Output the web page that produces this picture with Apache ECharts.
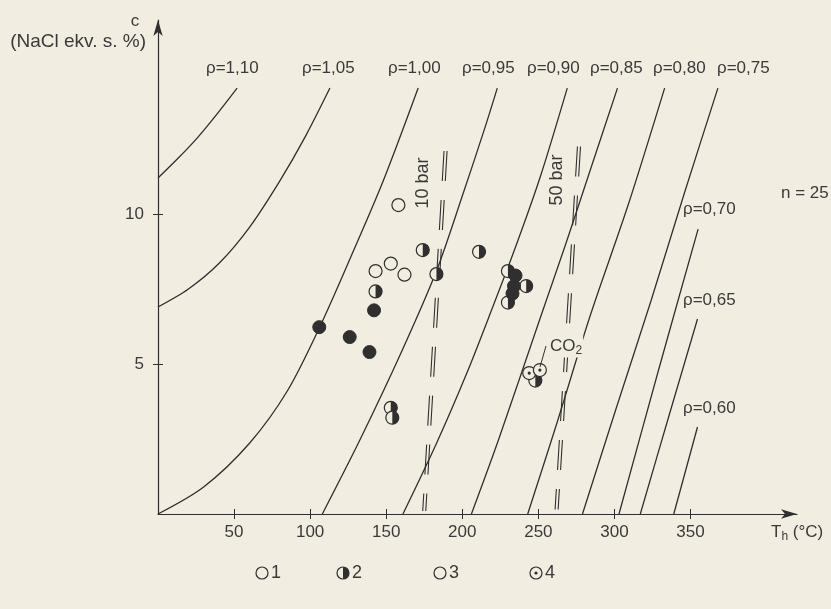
<!DOCTYPE html>
<html><head><meta charset="utf-8">
<script src="https://cdn.jsdelivr.net/npm/echarts@6/dist/echarts.min.js"></script>
<style>html,body{margin:0;padding:0;background:#f1ede1}#c{width:831px;height:609px}</style>
</head><body><div id="c"></div>
<script>
// ---- tick values ----
const xTicks = [50, 100, 150, 200, 250, 300, 350];
const yTicks = [5, 10];

// ---- isochores [T_h, c] ----
const rho110 = [[0,11.2],[13,11.85],[26,12.55],[39,13.35],[52,14.2]];
const rho105 = [[0,6.9],[20,7.5],[40,8.35],[60,9.55],[80,11.1],[97,12.6],[113,14.2]];
const rho100 = [[0,0],[30,0.9],[60,2.35],[85,4.1],[106,6.2],[127,8.6],[148,11.1],[171,14.2]];
const rho095 = [[108,0],[133,2.5],[160,5.4],[183,8.1],[200,10.6],[215,12.9],[223,14.2]];
const rho090 = [[161,0],[183,2.35],[203,4.7],[220,6.9],[235,8.9],[251,11.2],[269,14.2]];
const rho085 = [[206,0],[224,2.5],[251,6.5],[268,9.0],[285,11.6],[302,14.2]];
const rho080 = [[243,0],[262,3.0],[284,6.6],[309,10.3],[333,14.2]];
const rho075 = [[279,0],[301,3.5],[324,7.1],[346,10.7],[368,14.2]];
const rho070 = [[303,0],[329,4.8],[355,9.5]];
const rho065 = [[317,0],[336,3.3],[354.6,6.5]];
const rho060 = [[339,0],[354.6,2.9]];

// ---- isobars (double dashed) ----
const bar10 = [[188,12.1],[174,0.1]];
const bar50 = [[275.7,12.25],[261,0.15]];

// ---- inclusions [T_h, c] ----
const openPts = [[158,10.3],[153,8.35],[143,8.1],[162,7.98]];
const halfPts = [[174,8.8],[211,8.74],[183,8.0],[143,7.42],[153,3.54],[154,3.21],[230,8.1],[242,7.6],[230,7.05],[248,4.45]];
const fullPts = [[106,6.23],[126,5.9],[139,5.4],[142,6.79],[235,7.95],[234,7.6],[233,7.35]];
const dotPts  = [[244,4.7],[251,4.8]];

const INK = '#2f2f2f', BG = '#f1ede1', TXT = '#3a3a3a';
const FONT = "'Liberation Sans', 'DejaVu Sans', sans-serif";
const R = 6.5;

function glyph(kind, cx, cy, r) {
  const ch = [];
  if (kind === 'full') {
    ch.push({type:'circle', shape:{cx, cy, r}, style:{fill:INK, stroke:INK, lineWidth:1}});
  } else {
    ch.push({type:'circle', shape:{cx, cy, r}, style:{fill:BG, stroke:INK, lineWidth:1.2}});
    if (kind === 'half') ch.push({type:'sector', shape:{cx, cy, r0:0, r, startAngle:-Math.PI/2, endAngle:Math.PI/2, clockwise:true}, style:{fill:INK}});
    if (kind === 'dot') ch.push({type:'circle', shape:{cx, cy, r:1.6}, style:{fill:INK}});
  }
  return ch;
}
function pointSeries(data, kind) {
  return {
    type:'custom', data, z:5, encode:{x:0, y:1},
    renderItem: function (params, api) {
      const p = api.coord([api.value(0), api.value(1)]);
      return {type:'group', children: glyph(kind, p[0], p[1], R)};
    }
  };
}
function iso(data) {
  return {type:'line', data, smooth:0.3, symbol:'none', silent:true, z:2,
    lineStyle:{color:INK, width:1.3}};
}
function isobar(data, dT) {
  return {type:'line', data: data.map(d => [d[0] + dT, d[1]]), symbol:'none', silent:true, z:2,
    lineStyle:{color:INK, width:1.1, type:[30,19]}};
}

const chart = echarts.init(document.getElementById('c'), null, {renderer:'canvas'});

const axisCommonX = {type:'value', min:0, max:420, interval:50, position:'bottom'};
const axisCommonY = {type:'value', min:0, max:16.47, position:'left'};

function txt(x, y, s, opt) {
  return {type:'text', x, y, z:100, style:Object.assign({text:s, fill:TXT, font:'17px ' + FONT, textAlign:'left', textVerticalAlign:'middle'}, opt || {})};
}

const rhoTop = [
  ['ρ=1,10', 206], ['ρ=1,05', 302], ['ρ=1,00', 388], ['ρ=0,95', 462],
  ['ρ=0,90', 527], ['ρ=0,85', 590], ['ρ=0,80', 653], ['ρ=0,75', 717]
];
const graphics = [];
rhoTop.forEach(([s, x]) => graphics.push(txt(x, 68, s)));
graphics.push(txt(683, 209, 'ρ=0,70'));
graphics.push(txt(683, 300, 'ρ=0,65'));
graphics.push(txt(683, 408, 'ρ=0,60'));
graphics.push(txt(781, 193, 'n = 25'));
graphics.push(txt(135, 21, 'c', {textAlign:'center'}));
graphics.push(txt(146, 42, '(NaCl ekv. s. %)', {textAlign:'right', font:'19px ' + FONT}));
graphics.push({type:'text', x:771, y:532, z:100, style:{
  rich:{a:{font:'17px ' + FONT, fill:TXT}, s:{font:'12px ' + FONT, fill:TXT, padding:[10,0,0,0]}},
  text:'{a|T}{s|h}{a| (°C)}', textVerticalAlign:'middle'}});
graphics.push({type:'text', x:423, y:183, z:100, rotation:Math.PI/2, style:{text:'10 bar', fill:TXT, font:'18px ' + FONT, textAlign:'center', textVerticalAlign:'middle'}});
graphics.push({type:'text', x:557, y:180, z:100, rotation:Math.PI/2, style:{text:'50 bar', fill:TXT, font:'18px ' + FONT, textAlign:'center', textVerticalAlign:'middle'}});
graphics.push({type:'text', x:549, y:346, z:100, style:{
  backgroundColor:BG, padding:[1,1,1,1],
  rich:{a:{font:'17px ' + FONT, fill:TXT}, s:{font:'12px ' + FONT, fill:TXT, padding:[9,0,0,0]}},
  text:'{a|CO}{s|2}', textVerticalAlign:'middle'}});
graphics.push({type:'line', z:100, shape:{x1:546, y1:346, x2:540, y2:367}, style:{stroke:INK, lineWidth:1}});
// legend
const legendItems = [['open',262,'1'],['half',343,'2'],['open',440,'3'],['dot',536,'4']];
legendItems.forEach(([k, x, s]) => {
  graphics.push({type:'group', z:100, children: glyph(k, x, 573, 6)});
  graphics.push(txt(x + 9, 573, s, {font:'18px ' + FONT}));
});

chart.setOption({
  animation:false,
  backgroundColor:BG,
  grid:{left:158, right:34, top:20, bottom:95},
  xAxis:[
    Object.assign({}, axisCommonX, {
      axisLine:{show:true, lineStyle:{color:INK, width:1.2}, symbol:['none','arrow'], symbolSize:[7,16]},
      axisTick:{show:true, length:5, customValues:xTicks, lineStyle:{color:INK}},
      axisLabel:{customValues:xTicks, color:TXT, fontSize:17, fontFamily:FONT, margin:10},
      splitLine:{show:false}
    }),
    Object.assign({}, axisCommonX, {
      axisLine:{show:false},
      axisTick:{show:true, inside:true, length:5, customValues:xTicks, lineStyle:{color:INK}},
      axisLabel:{show:false}, splitLine:{show:false}
    })
  ],
  yAxis:[
    Object.assign({}, axisCommonY, {
      axisLine:{show:true, lineStyle:{color:INK, width:1.2}, symbol:['none','arrow'], symbolSize:[7,16]},
      axisTick:{show:true, length:5, customValues:yTicks, lineStyle:{color:INK}},
      axisLabel:{customValues:yTicks, color:TXT, fontSize:17, fontFamily:FONT, margin:14},
      splitLine:{show:false}
    }),
    Object.assign({}, axisCommonY, {
      axisLine:{show:false},
      axisTick:{show:true, inside:true, length:5, customValues:yTicks, lineStyle:{color:INK}},
      axisLabel:{show:false}, splitLine:{show:false}
    })
  ],
  graphic:graphics,
  series:[
    iso(rho110), iso(rho105), iso(rho100), iso(rho095), iso(rho090), iso(rho085),
    iso(rho080), iso(rho075), iso(rho070), iso(rho065), iso(rho060),
    isobar(bar10, 0), isobar(bar10, 2),
    isobar(bar50, 0), isobar(bar50, 2),
    pointSeries(openPts, 'open'), pointSeries(halfPts, 'half'),
    pointSeries(fullPts, 'full'), pointSeries(dotPts, 'dot')
  ]
});
</script></body></html>
